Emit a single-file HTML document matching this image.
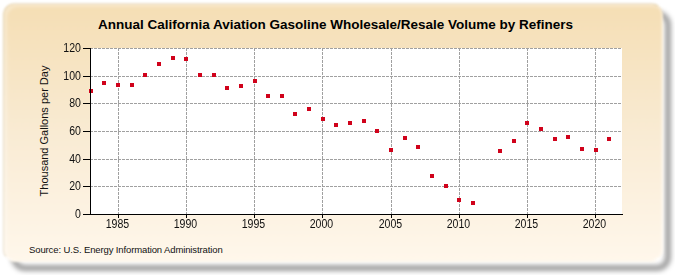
<!DOCTYPE html>
<html><head><meta charset="utf-8"><style>
html,body{margin:0;padding:0;background:#fff;width:675px;height:275px;overflow:hidden;position:relative}
body{font-family:"Liberation Sans",sans-serif;color:#000}
.shadow{position:absolute;left:11px;top:11px;width:648px;height:248px;border:6px solid rgba(0,0,0,0.38);border-radius:14px;filter:blur(2.4px)}
.panel{position:absolute;left:3px;top:3px;width:657px;height:256px;border-radius:12px;box-shadow:inset 3px 3px 3px rgba(255,255,255,0.3);border-style:solid;border-width:1px 2px 2px 1px;border-color:rgba(200,190,160,0.4) rgba(255,255,255,0.35) rgba(255,255,255,0.75) rgba(200,190,160,0.4);
background:linear-gradient(to bottom,#f5deb4 0%,#f9ebd3 50%,#fff7eb 100%);filter:blur(0.8px)}
svg{position:absolute;left:0;top:0}
.title{position:absolute;left:-2px;top:16.5px;width:675px;text-align:center;font-weight:bold;font-size:13.5px;color:#000;white-space:nowrap}
.src{position:absolute;left:29px;top:244px;font-size:9.5px;letter-spacing:-0.12px;color:#111;white-space:nowrap}
.ylab{position:absolute;left:44.5px;top:130.7px;width:140px;height:14px;margin-left:-70px;margin-top:-7px;transform:rotate(-90deg);text-align:center;font-size:11px;color:#111;white-space:nowrap}
.yl{position:absolute;left:40px;width:41px;text-align:right;font-size:12px;height:14px;line-height:14px;color:#111;transform:scaleX(0.88);transform-origin:right center}
.xl{position:absolute;top:217px;width:41px;text-align:center;font-size:12px;height:14px;line-height:14px;color:#111;transform:scaleX(0.88)}
</style></head><body>
<div class="shadow"></div><div class="panel"></div>
<svg width="675" height="275" shape-rendering="crispEdges">
<rect x="90" y="48" width="532" height="166" fill="#fff"/>
<line x1="90" y1="48.5" x2="622" y2="48.5" stroke="#a0a0a0" stroke-width="1" stroke-dasharray="3 1"/>
<line x1="90" y1="76.5" x2="622" y2="76.5" stroke="#a0a0a0" stroke-width="1" stroke-dasharray="3 1"/>
<line x1="90" y1="103.5" x2="622" y2="103.5" stroke="#a0a0a0" stroke-width="1" stroke-dasharray="3 1"/>
<line x1="90" y1="131.5" x2="622" y2="131.5" stroke="#a0a0a0" stroke-width="1" stroke-dasharray="3 1"/>
<line x1="90" y1="159.5" x2="622" y2="159.5" stroke="#a0a0a0" stroke-width="1" stroke-dasharray="3 1"/>
<line x1="90" y1="186.5" x2="622" y2="186.5" stroke="#a0a0a0" stroke-width="1" stroke-dasharray="3 1"/>
<line x1="118.5" y1="48" x2="118.5" y2="214" stroke="#a0a0a0" stroke-width="1" stroke-dasharray="3 1"/>
<line x1="186.5" y1="48" x2="186.5" y2="214" stroke="#a0a0a0" stroke-width="1" stroke-dasharray="3 1"/>
<line x1="254.5" y1="48" x2="254.5" y2="214" stroke="#a0a0a0" stroke-width="1" stroke-dasharray="3 1"/>
<line x1="322.5" y1="48" x2="322.5" y2="214" stroke="#a0a0a0" stroke-width="1" stroke-dasharray="3 1"/>
<line x1="391.5" y1="48" x2="391.5" y2="214" stroke="#a0a0a0" stroke-width="1" stroke-dasharray="3 1"/>
<line x1="459.5" y1="48" x2="459.5" y2="214" stroke="#a0a0a0" stroke-width="1" stroke-dasharray="3 1"/>
<line x1="527.5" y1="48" x2="527.5" y2="214" stroke="#a0a0a0" stroke-width="1" stroke-dasharray="3 1"/>
<line x1="595.5" y1="48" x2="595.5" y2="214" stroke="#a0a0a0" stroke-width="1" stroke-dasharray="3 1"/>
<rect x="89" y="89" width="4" height="4" fill="#d0021b"/>
<rect x="102" y="81" width="4" height="4" fill="#d0021b"/>
<rect x="116" y="83" width="4" height="4" fill="#d0021b"/>
<rect x="130" y="83" width="4" height="4" fill="#d0021b"/>
<rect x="143" y="73" width="4" height="4" fill="#d0021b"/>
<rect x="157" y="62" width="4" height="4" fill="#d0021b"/>
<rect x="171" y="56" width="4" height="4" fill="#d0021b"/>
<rect x="184" y="57" width="4" height="4" fill="#d0021b"/>
<rect x="198" y="73" width="4" height="4" fill="#d0021b"/>
<rect x="212" y="73" width="4" height="4" fill="#d0021b"/>
<rect x="225" y="86" width="4" height="4" fill="#d0021b"/>
<rect x="239" y="84" width="4" height="4" fill="#d0021b"/>
<rect x="253" y="79" width="4" height="4" fill="#d0021b"/>
<rect x="266" y="94" width="4" height="4" fill="#d0021b"/>
<rect x="280" y="94" width="4" height="4" fill="#d0021b"/>
<rect x="293" y="112" width="4" height="4" fill="#d0021b"/>
<rect x="307" y="107" width="4" height="4" fill="#d0021b"/>
<rect x="321" y="117" width="4" height="4" fill="#d0021b"/>
<rect x="334" y="123" width="4" height="4" fill="#d0021b"/>
<rect x="348" y="121" width="4" height="4" fill="#d0021b"/>
<rect x="362" y="119" width="4" height="4" fill="#d0021b"/>
<rect x="375" y="129" width="4" height="4" fill="#d0021b"/>
<rect x="389" y="148" width="4" height="4" fill="#d0021b"/>
<rect x="403" y="136" width="4" height="4" fill="#d0021b"/>
<rect x="416" y="145" width="4" height="4" fill="#d0021b"/>
<rect x="430" y="174" width="4" height="4" fill="#d0021b"/>
<rect x="444" y="184" width="4" height="4" fill="#d0021b"/>
<rect x="457" y="198" width="4" height="4" fill="#d0021b"/>
<rect x="471" y="201" width="4" height="4" fill="#d0021b"/>
<rect x="498" y="149" width="4" height="4" fill="#d0021b"/>
<rect x="512" y="139" width="4" height="4" fill="#d0021b"/>
<rect x="525" y="121" width="4" height="4" fill="#d0021b"/>
<rect x="539" y="127" width="4" height="4" fill="#d0021b"/>
<rect x="553" y="137" width="4" height="4" fill="#d0021b"/>
<rect x="566" y="135" width="4" height="4" fill="#d0021b"/>
<rect x="580" y="147" width="4" height="4" fill="#d0021b"/>
<rect x="594" y="148" width="4" height="4" fill="#d0021b"/>
<rect x="607" y="137" width="4" height="4" fill="#d0021b"/>
<line x1="90.5" y1="48" x2="90.5" y2="215" stroke="#000" stroke-width="1"/>
<line x1="83" y1="214.5" x2="623" y2="214.5" stroke="#000" stroke-width="1"/>
<line x1="83" y1="48.5" x2="90" y2="48.5" stroke="#000" stroke-width="1"/>
<line x1="83" y1="76.5" x2="90" y2="76.5" stroke="#000" stroke-width="1"/>
<line x1="83" y1="103.5" x2="90" y2="103.5" stroke="#000" stroke-width="1"/>
<line x1="83" y1="131.5" x2="90" y2="131.5" stroke="#000" stroke-width="1"/>
<line x1="83" y1="159.5" x2="90" y2="159.5" stroke="#000" stroke-width="1"/>
<line x1="83" y1="186.5" x2="90" y2="186.5" stroke="#000" stroke-width="1"/>
<line x1="83" y1="214.5" x2="90" y2="214.5" stroke="#000" stroke-width="1"/>
<line x1="118.5" y1="214" x2="118.5" y2="218" stroke="#000" stroke-width="1"/>
<line x1="186.5" y1="214" x2="186.5" y2="218" stroke="#000" stroke-width="1"/>
<line x1="254.5" y1="214" x2="254.5" y2="218" stroke="#000" stroke-width="1"/>
<line x1="322.5" y1="214" x2="322.5" y2="218" stroke="#000" stroke-width="1"/>
<line x1="391.5" y1="214" x2="391.5" y2="218" stroke="#000" stroke-width="1"/>
<line x1="459.5" y1="214" x2="459.5" y2="218" stroke="#000" stroke-width="1"/>
<line x1="527.5" y1="214" x2="527.5" y2="218" stroke="#000" stroke-width="1"/>
<line x1="595.5" y1="214" x2="595.5" y2="218" stroke="#000" stroke-width="1"/>
</svg>
<div class="title">Annual California Aviation Gasoline Wholesale/Resale Volume by Refiners</div>
<div class="ylab">Thousand Gallons per Day</div>
<div class="yl" style="top:41px">120</div><div class="yl" style="top:69px">100</div><div class="yl" style="top:96px">80</div><div class="yl" style="top:124px">60</div><div class="yl" style="top:152px">40</div><div class="yl" style="top:179px">20</div><div class="yl" style="top:207px">0</div><div class="xl" style="left:97px">1985</div><div class="xl" style="left:165px">1990</div><div class="xl" style="left:233px">1995</div><div class="xl" style="left:301px">2000</div><div class="xl" style="left:370px">2005</div><div class="xl" style="left:438px">2010</div><div class="xl" style="left:506px">2015</div><div class="xl" style="left:574px">2020</div>
<div class="src">Source: U.S. Energy Information Administration</div>
</body></html>
